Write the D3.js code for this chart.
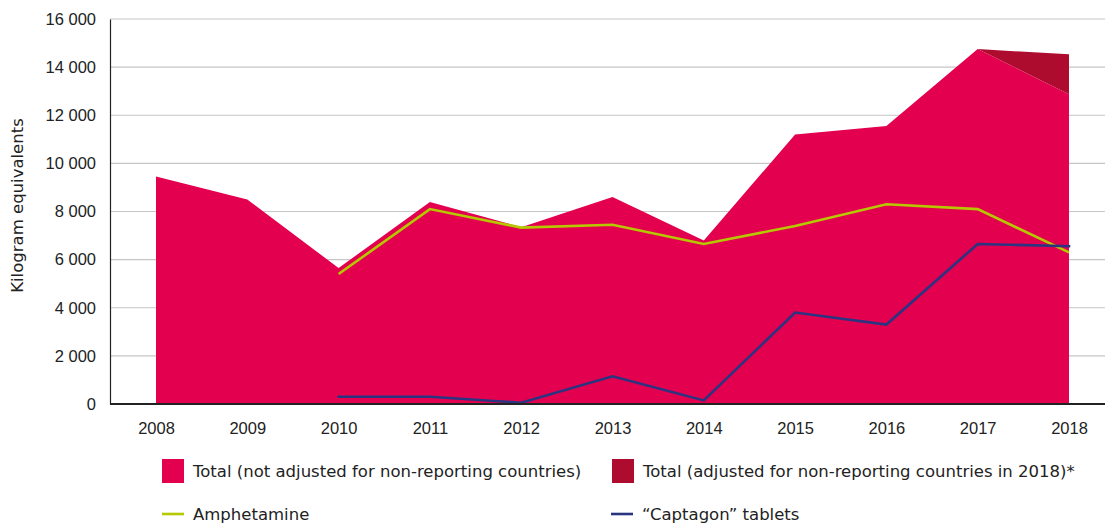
<!DOCTYPE html>
<html>
<head>
<meta charset="utf-8">
<script src="https://cdn.jsdelivr.net/npm/d3@7"></script>
<style>
  body { margin: 0; background: #fff; }
  svg { display: block; font-family: "DejaVu Sans", sans-serif; }
</style>
</head>
<body>
<svg id="chart" width="1105" height="523"></svg>
<script>
// 数据
const years = [2008, 2009, 2010, 2011, 2012, 2013, 2014, 2015, 2016, 2017, 2018];
const totalValues = [9450, 8500, 5650, 8400, 7350, 8600, 6800, 11200, 11550, 14750, 12870];
const adjustedYears = [2017, 2018];
const adjustedValues = [14750, 14530];
const amphYears = [2010, 2011, 2012, 2013, 2014, 2015, 2016, 2017, 2018];
const amphValues = [5400, 8100, 7330, 7450, 6650, 7400, 8300, 8100, 6300];
const captYears = [2010, 2011, 2012, 2013, 2014, 2015, 2016, 2017, 2018];
const captValues = [300, 300, 50, 1150, 150, 3800, 3300, 6650, 6560];
const yTicks = [0, 2000, 4000, 6000, 8000, 10000, 12000, 14000, 16000];

const colors = {
  total: "#e3004f",
  adjusted: "#ae0c2e",
  amph: "#b5c800",
  capt: "#2b3481"
};

const svg = d3.select("#chart");
const mLeft = 110, mRight = 1105, mTop = 19, mBottom = 404;

const x = d3.scalePoint().domain(years).range([156, 1069]);
const y = d3.scaleLinear().domain([0, 16000]).range([mBottom, mTop]);

const fmt = v => d3.format(",")(v).replace(/,/g, " ");

// 网格线
svg.append("g")
  .selectAll("line")
  .data(yTicks.filter(d => d > 0))
  .enter()
  .append("line")
  .attr("x1", mLeft)
  .attr("x2", mRight)
  .attr("y1", d => y(d))
  .attr("y2", d => y(d))
  .attr("stroke", "#c6c6c6")
  .attr("stroke-width", 1.2);

// 面积（调整后）
const adjRows = adjustedYears.map((yr, i) => ({
  year: yr,
  lo: totalValues[years.indexOf(yr)],
  hi: adjustedValues[i]
}));
svg.append("path")
  .datum(adjRows)
  .attr("fill", colors.adjusted)
  .attr("d", d3.area()
    .x(d => x(d.year))
    .y0(d => y(d.lo))
    .y1(d => y(d.hi)));

// 面积（未调整）
const totalRows = years.map((yr, i) => ({ year: yr, v: totalValues[i] }));
svg.append("path")
  .datum(totalRows)
  .attr("fill", colors.total)
  .attr("d", d3.area()
    .x(d => x(d.year))
    .y0(y(0))
    .y1(d => y(d.v)));

// 折线
const line = d3.line().x(d => x(d.year)).y(d => y(d.v));
svg.append("path")
  .datum(amphYears.map((yr, i) => ({ year: yr, v: amphValues[i] })))
  .attr("fill", "none")
  .attr("stroke", colors.amph)
  .attr("stroke-width", 2.6)
  .attr("d", line);
svg.append("path")
  .datum(captYears.map((yr, i) => ({ year: yr, v: captValues[i] })))
  .attr("fill", "none")
  .attr("stroke", colors.capt)
  .attr("stroke-width", 2.6)
  .attr("stroke-linecap", "square")
  .attr("d", line);

// 坐标轴
const yAxis = svg.append("g")
  .attr("transform", `translate(${mLeft},0)`)
  .call(d3.axisLeft(y).tickValues(yTicks).tickSize(0).tickPadding(14).tickFormat(fmt));
yAxis.select(".domain").attr("stroke", "#222").attr("stroke-width", 1.2);
yAxis.selectAll("text").attr("font-size", 16.5).attr("fill", "#222");

const xAxis = svg.append("g")
  .attr("transform", `translate(0,${mBottom})`)
  .call(d3.axisBottom(x).tickSize(0).tickPadding(18).tickFormat(d3.format("d")));
xAxis.select(".domain").remove();
xAxis.selectAll("text").attr("font-size", 16.5).attr("fill", "#222");
svg.append("line")
  .attr("x1", mLeft).attr("x2", mRight)
  .attr("y1", mBottom).attr("y2", mBottom)
  .attr("stroke", "#222").attr("stroke-width", 2);

svg.append("text")
  .attr("transform", `translate(23,${(mTop + mBottom) / 2 - 6}) rotate(-90)`)
  .attr("text-anchor", "middle")
  .attr("font-size", 16.5)
  .attr("fill", "#222")
  .text("Kilogram equivalents");

// 图例
const legendItems = [
  { type: "rect", color: colors.total, label: "Total (not adjusted for non-reporting countries)", lx: 162, ly: 471 },
  { type: "rect", color: colors.adjusted, label: "Total (adjusted for non-reporting countries in 2018)*", lx: 612, ly: 471 },
  { type: "line", color: colors.amph, label: "Amphetamine", lx: 162, ly: 514 },
  { type: "line", color: colors.capt, label: "\u201cCaptagon\u201d tablets", lx: 611, ly: 514 }
];
const lg = svg.append("g").selectAll("g").data(legendItems).enter().append("g")
  .attr("transform", d => `translate(${d.lx},${d.ly})`);
lg.filter(d => d.type === "rect").append("rect")
  .attr("x", 0).attr("y", -12).attr("width", 22).attr("height", 24)
  .attr("fill", d => d.color);
lg.filter(d => d.type === "line").append("line")
  .attr("x1", 0).attr("x2", 22).attr("y1", 0).attr("y2", 0)
  .attr("stroke", d => d.color).attr("stroke-width", 2.6);
lg.append("text")
  .attr("x", 31).attr("y", 0).attr("dy", "0.35em")
  .attr("font-size", 16.5).attr("fill", "#222")
  .text(d => d.label);
</script>
</body>
</html>
